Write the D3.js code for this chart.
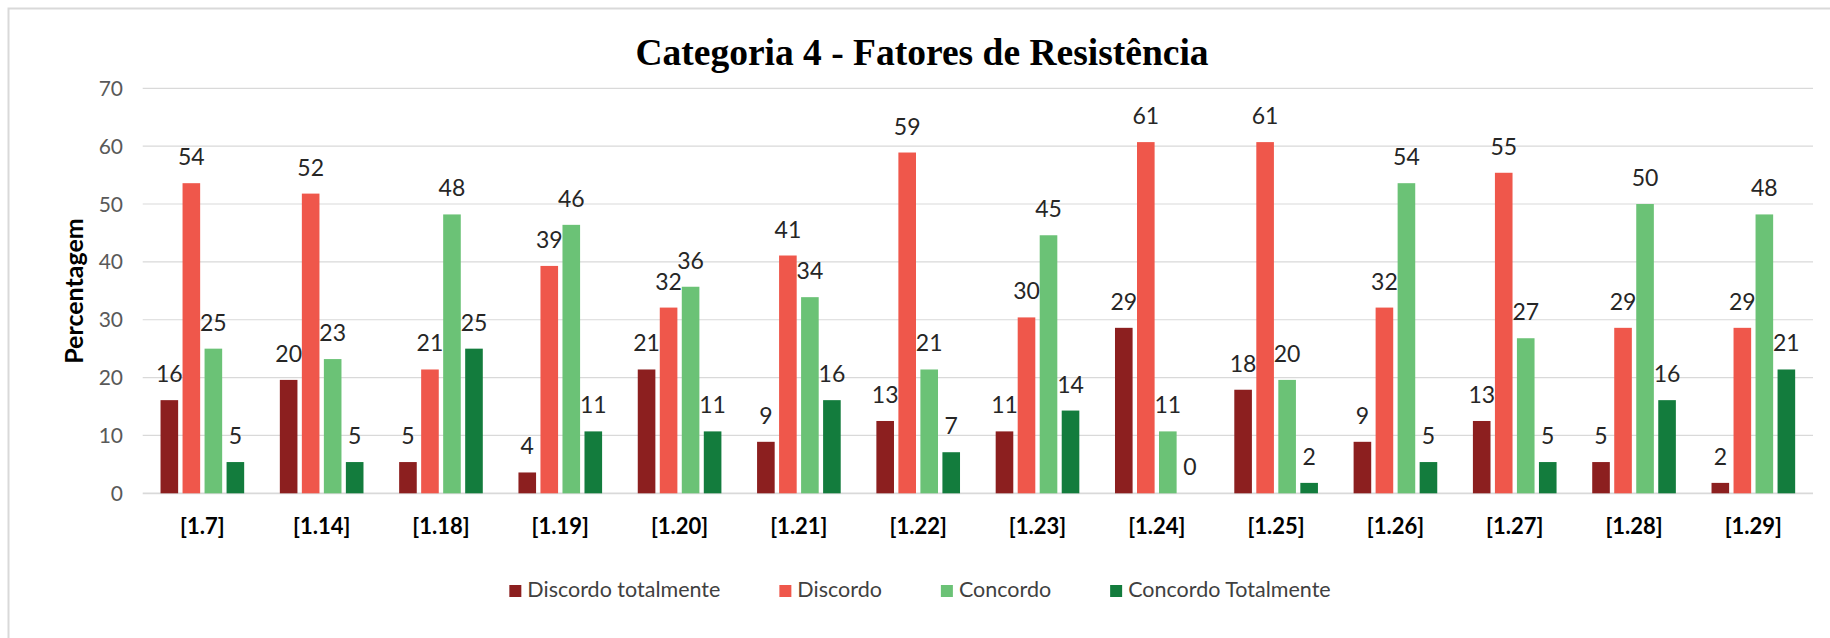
<!DOCTYPE html>
<html>
<head>
<meta charset="utf-8">
<script src="https://cdn.jsdelivr.net/npm/d3@7"></script>
<style>
body { margin: 0; background: #fff; }
</style>
</head>
<body>
<div id="root"></div>
<script>
var width = 1830;
var height = 638;

// data (percentages)
var categories = ["[1.7]", "[1.14]", "[1.18]", "[1.19]", "[1.20]", "[1.21]", "[1.22]",
	"[1.23]", "[1.24]", "[1.25]", "[1.26]", "[1.27]", "[1.28]", "[1.29]"];
var seriesNames = ["Discordo totalmente", "Discordo", "Concordo", "Concordo Totalmente"];
var discordoTotalmente = [16.1, 19.6, 5.4, 3.6, 21.4, 8.9, 12.5, 10.7, 28.6, 17.9, 8.9, 12.5, 5.4, 1.8];
var discordo = [53.6, 51.8, 21.4, 39.3, 32.1, 41.1, 58.9, 30.4, 60.7, 60.7, 32.1, 55.4, 28.6, 28.6];
var concordo = [25.0, 23.2, 48.2, 46.4, 35.7, 33.9, 21.4, 44.6, 10.7, 19.6, 53.6, 26.8, 50.0, 48.2];
var concordoTotalmente = [5.4, 5.4, 25.0, 10.7, 10.7, 16.1, 7.1, 14.3, 0, 1.8, 5.4, 5.4, 16.1, 21.4];
var yTicks = [0, 10, 20, 30, 40, 50, 60, 70];

var colors = ["#8c1f1f", "#ef574b", "#6bc276", "#137c3d"];
var seriesValues = [discordoTotalmente, discordo, concordo, concordoTotalmente];

var svg =
d3.select("#root")
.append("svg")
.attr("width", width)
.attr("height", height);

// chart frame
svg.append("rect")
.attr("x", 8.5)
.attr("y", 8.5)
.attr("width", 1900)
.attr("height", 700)
.attr("fill", "none")
.attr("stroke", "#d9d9d9")
.attr("stroke-width", 2);

var plotLeft = 142.7, plotRight = 1813;

var x0 = d3.scaleBand()
.domain(categories)
.range([plotLeft, plotRight])
.paddingInner(0.262)
.paddingOuter(0.131);

var x1 = d3.scaleBand()
.domain(seriesNames)
.range([0, x0.bandwidth()])
.paddingInner(0.2)
.paddingOuter(0.1);

var y = d3.scaleLinear()
.domain([0, 70])
.range([493.3, 88.3]);

// gridlines
svg.append("g")
.selectAll("line")
.data(yTicks)
.enter()
.append("line")
.attr("x1", plotLeft)
.attr("x2", plotRight)
.attr("y1", function(d) { return y(d); })
.attr("y2", function(d) { return y(d); })
.attr("stroke", "#d9d9d9")
.attr("stroke-width", function(d) { return d == 0 ? 1.8 : 1.2; });

// y tick labels
svg.append("g")
.selectAll("text")
.data(yTicks)
.enter()
.append("text")
.attr("x", 123)
.attr("y", function(d) { return y(d); })
.attr("dy", "0.36em")
.attr("text-anchor", "end")
.attr("font-family", "Lato")
.attr("font-size", "21px")
.attr("fill", "#595959")
.text(function(d) { return d; });

// y axis title
svg.append("text")
.attr("transform", "translate(83, 291) rotate(-90)")
.attr("text-anchor", "middle")
.attr("font-family", "Lato")
.attr("font-weight", "bold")
.attr("font-size", "25px")
.attr("fill", "#000")
.text("Percentagem");

// bars
var rows = categories.map(function(c, i) {
	return seriesNames.map(function(s, j) {
		return { cat: c, series: s, idx: j, value: seriesValues[j][i] };
	});
});

var groups = svg.append("g")
.selectAll("g")
.data(rows)
.enter()
.append("g")
.attr("transform", function(d, i) { return "translate(" + x0(categories[i]) + ",0)"; });

groups.selectAll("rect")
.data(function(d) { return d; })
.enter()
.append("rect")
.attr("x", function(d) { return x1(d.series); })
.attr("width", x1.bandwidth())
.attr("y", function(d) { return y(d.value); })
.attr("height", function(d) { return y(0) - y(d.value); })
.attr("fill", function(d) { return colors[d.idx]; });

// data labels
groups.selectAll("text")
.data(function(d) { return d; })
.enter()
.append("text")
.attr("x", function(d) { return x1(d.series) + x1.bandwidth() / 2; })
.attr("y", function(d) { return y(d.value) - 18; })
.attr("text-anchor", "middle")
.attr("font-family", "Lato")
.attr("font-size", "23px")
.attr("fill", "#262626")
.text(function(d) { return Math.round(d.value); });

// category labels
svg.append("g")
.selectAll("text")
.data(categories)
.enter()
.append("text")
.attr("x", function(d) { return x0(d) + x0.bandwidth() / 2; })
.attr("y", 534)
.attr("text-anchor", "middle")
.attr("font-family", "Lato")
.attr("font-weight", "bold")
.attr("font-size", "22px")
.attr("fill", "#000")
.text(function(d) { return d; });

// title
svg.append("text")
.attr("x", 922)
.attr("y", 65)
.attr("text-anchor", "middle")
.attr("font-family", "Liberation Serif")
.attr("font-weight", "bold")
.attr("font-size", "37.5px")
.attr("fill", "#000")
.text("Categoria 4 - Fatores de Resistência");

// legend
var legend = svg.append("g");
var legendItems = legend.selectAll("g")
.data(seriesNames)
.enter()
.append("g");

legendItems.append("rect")
.attr("width", 12)
.attr("height", 12)
.attr("y", 585)
.attr("fill", function(d, i) { return colors[i]; });

legendItems.append("text")
.attr("x", 18)
.attr("y", 597)
.attr("font-family", "Lato")
.attr("font-size", "21.5px")
.attr("fill", "#404040")
.text(function(d) { return d; });

var offset = 0;
legendItems.each(function() {
	var g = d3.select(this);
	g.attr("transform", "translate(" + offset + ",0)");
	offset += 18 + g.select("text").node().getComputedTextLength() + 59;
});
var legendWidth = offset - 59;
legend.attr("transform", "translate(" + (920 - legendWidth / 2) + ",0)");
</script>
</body>
</html>
